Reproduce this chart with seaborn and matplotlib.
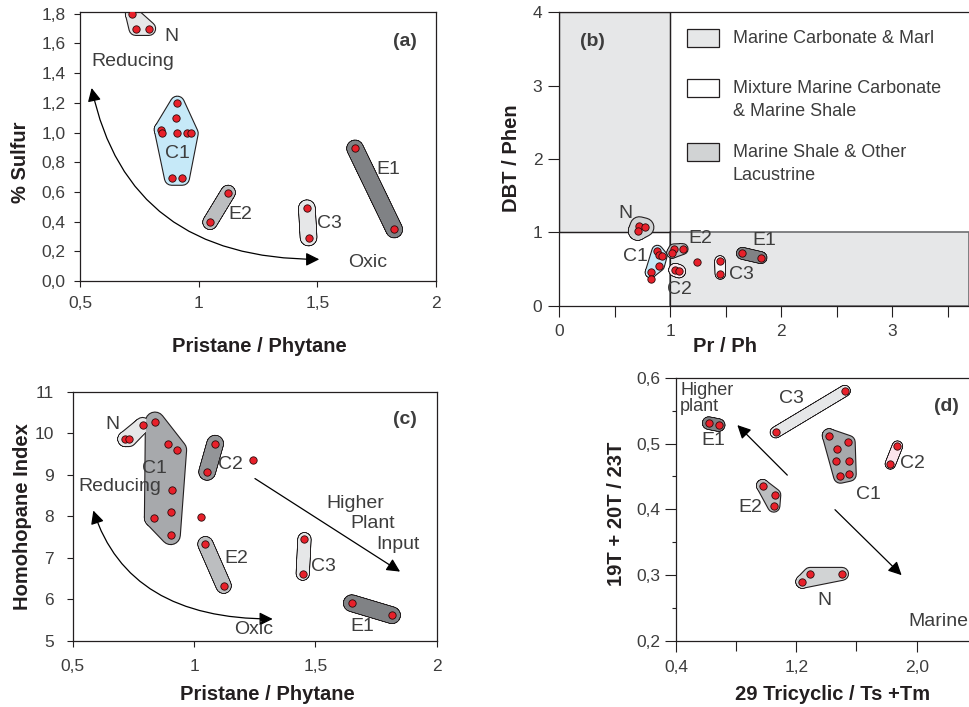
import numpy as np
import pandas as pd
import matplotlib
matplotlib.use('Agg')
import matplotlib.pyplot as plt
import seaborn as sns
from matplotlib.patches import Polygon, Rectangle
from matplotlib.ticker import FuncFormatter, MultipleLocator, FixedLocator

sns.set_style('ticks')
plt.rcParams['font.family'] = ['Liberation Sans', 'DejaVu Sans']

TXT = '#3d3d3d'
EDGE = '#231f20'
RED = '#e8202a'

# ---------------- (a) % Sulfur vs Pristane/Phytane ----------------
a_N_x = [0.72, 0.735, 0.79]
a_N_y = [1.80, 1.70, 1.70]
a_C1_x = [0.91, 0.903, 0.843, 0.847, 0.91, 0.95, 0.968, 0.886, 0.931]
a_C1_y = [1.197, 1.10, 1.02, 0.995, 0.995, 0.995, 0.995, 0.693, 0.693]
a_E2_x = [1.124, 1.048]
a_E2_y = [0.596, 0.396]
a_C3_x = [1.456, 1.463]
a_C3_y = [0.49, 0.293]
a_E1_x = [1.659, 1.824]
a_E1_y = [0.893, 0.347]

# ---------------- (b) DBT/Phen vs Pr/Ph ----------------
b_N_x = [0.723, 0.708, 0.771]
b_N_y = [1.087, 1.019, 1.069]
b_C1_x = [0.885, 0.897, 0.924, 0.90, 0.825]
b_C1_y = [0.75, 0.692, 0.678, 0.545, 0.455]
b_E2_x = [1.035, 1.113, 1.02]
b_E2_y = [0.769, 0.773, 0.723]
b_C2_x = [1.047, 1.08]
b_C2_y = [0.487, 0.469]
b_C3_x = [1.449, 1.452]
b_C3_y = [0.61, 0.432]
b_E1_x = [1.65, 1.818]
b_E1_y = [0.714, 0.655]
b_free_x = [0.831, 1.239]
b_free_y = [0.36, 0.592]

# ---------------- (c) Homohopane Index vs Pristane/Phytane ----------------
c_N_x = [0.717, 0.732, 0.788]
c_N_y = [9.86, 9.86, 10.2]
c_C1_x = [0.839, 0.894, 0.93, 0.909, 0.907, 0.835, 0.904]
c_C1_y = [10.28, 9.75, 9.6, 8.63, 8.11, 7.97, 7.55]
c_C2_x = [1.087, 1.054]
c_C2_y = [9.75, 9.07]
c_E2_x = [1.047, 1.122]
c_E2_y = [7.33, 6.33]
c_C3_x = [1.455, 1.448]
c_C3_y = [7.45, 6.62]
c_E1_x = [1.65, 1.816]
c_E1_y = [5.91, 5.62]
c_free_x = [1.245, 1.029]
c_free_y = [9.36, 7.98]

# ---------------- (d) 19T+20T/23T vs 29 Tricyclic/Ts+Tm ----------------
d_E1_x = [0.617, 0.684]
d_E1_y = [0.531, 0.528]
d_C3_x = [1.063, 1.522]
d_C3_y = [0.517, 0.580]
d_C1_x = [1.418, 1.546, 1.473, 1.464, 1.55, 1.493, 1.553]
d_C1_y = [0.512, 0.502, 0.491, 0.474, 0.474, 0.450, 0.453]
d_C2_x = [1.872, 1.825]
d_C2_y = [0.496, 0.469]
d_E2_x = [0.976, 1.056, 1.05]
d_E2_y = [0.436, 0.422, 0.405]
d_N_x = [1.24, 1.291, 1.504]
d_N_y = [0.290, 0.302, 0.302]


def hull(xs, ys):
    pts = sorted(set(zip(xs, ys)))
    if len(pts) <= 2:
        return pts
    def cross(o, a, b):
        return (a[0] - o[0]) * (b[1] - o[1]) - (a[1] - o[1]) * (b[0] - o[0])
    lower, upper = [], []
    for p in pts:
        while len(lower) >= 2 and cross(lower[-2], lower[-1], p) <= 0:
            lower.pop()
        lower.append(p)
    for p in reversed(pts):
        while len(upper) >= 2 and cross(upper[-2], upper[-1], p) <= 0:
            upper.pop()
        upper.append(p)
    return lower[:-1] + upper[:-1]


def blob(ax, xs, ys, fc, w):
    # rounded envelope around a group: thick round-joined outline of its hull
    h = hull(xs, ys)
    hx = [p[0] for p in h] + [h[0][0]]
    hy = [p[1] for p in h] + [h[0][1]]
    ax.plot(hx, hy, color=EDGE, lw=w + 1.6, solid_joinstyle='round',
            solid_capstyle='round', zorder=2)
    ax.plot(hx, hy, color=fc, lw=w, solid_joinstyle='round',
            solid_capstyle='round', zorder=2.1)
    if len(h) > 2:
        ax.add_patch(Polygon(h, closed=True, fc=fc, ec='none', zorder=2.2))


def dots(ax, groups):
    xs, ys = [], []
    for gx, gy in groups:
        xs += gx
        ys += gy
    df = pd.DataFrame({'x': xs, 'y': ys})
    sns.scatterplot(data=df, x='x', y='y', ax=ax, color=RED, edgecolor='#2a0a0a',
                    linewidth=0.6, s=28, zorder=5, legend=False)


def lab(ax, x, y, s, size=14, **kw):
    ax.text(x, y, s, fontsize=size, color=TXT, ha=kw.pop('ha', 'center'),
            va=kw.pop('va', 'center'), zorder=6, **kw)


def comma(fmt):
    return FuncFormatter(lambda v, p: (fmt % v).replace('.', ','))


def style(ax, length, xpad, ypad):
    for sp in ax.spines.values():
        sp.set_color(EDGE)
        sp.set_linewidth(0.9)
    ax.tick_params(which='both', direction='out', color=EDGE, width=0.8,
                   labelcolor=TXT, labelsize=12.5, length=length)
    ax.tick_params(axis='x', pad=xpad)
    ax.tick_params(axis='y', pad=ypad)


def axlabels(ax, xl, yl, xpos, ypos):
    ax.set_xlabel(xl, fontsize=14.5, fontweight='bold', color=EDGE)
    ax.set_ylabel(yl, fontsize=14.5, fontweight='bold', color=EDGE)
    ax.xaxis.set_label_coords(*xpos)
    ax.yaxis.set_label_coords(*ypos)


def arrow(ax, start, tip, style='-|>', conn='arc3'):
    ax.annotate('', xy=tip, xytext=start,
                arrowprops=dict(arrowstyle=style, color='black', lw=0.9,
                                mutation_scale=20, shrinkA=0, shrinkB=0,
                                connectionstyle=conn), zorder=4)


fig = plt.figure(figsize=(9.69, 7.07), dpi=100)
W, H = 969, 707

# ================= (a) =================
ax = fig.add_axes([80 / W, 1 - 281 / H, 356 / W, (281 - 12.3) / H])
blob(ax, a_N_x, a_N_y, '#e6e7e8', 9)
blob(ax, a_C1_x, a_C1_y, '#c6e9f8', 9.5)
blob(ax, a_E2_x, a_E2_y, '#bcbec0', 9.5)
blob(ax, a_C3_x, a_C3_y, '#e6e7e8', 11)
blob(ax, a_E1_x, a_E1_y, '#808285', 11)
dots(ax, [(a_N_x, a_N_y), (a_C1_x, a_C1_y), (a_E2_x, a_E2_y),
          (a_C3_x, a_C3_y), (a_E1_x, a_E1_y)])
ax.set_xlim(0.5, 2)
ax.set_ylim(0, 1.81)
ax.xaxis.set_major_locator(FixedLocator([0.5, 1, 1.5, 2]))
ax.xaxis.set_major_formatter(comma('%g'))
ax.yaxis.set_major_locator(MultipleLocator(0.2))
ax.yaxis.set_major_formatter(comma('%.1f'))
style(ax, 4, 7, 6.5)
axlabels(ax, 'Pristane / Phytane', '% Sulfur', (0.503, -0.207), (-0.140, 0.443))
arrow(ax, (1.508, 0.146), (0.549, 1.30), '<|-|>', 'angle3,angleA=0,angleB=-78')
lab(ax, 0.886, 1.65, 'N')
lab(ax, 0.549, 1.48, 'Reducing', ha='left')
lab(ax, 1.87, 1.615, '(a)', fontweight='bold')
lab(ax, 0.91, 0.86, 'C1')
lab(ax, 1.174, 0.445, 'E2')
lab(ax, 1.551, 0.385, 'C3')
lab(ax, 1.799, 0.749, 'E1')
lab(ax, 1.712, 0.126, 'Oxic')

# ================= (b) =================
ax = fig.add_axes([559 / W, 1 - 305.7 / H, 410 / W, (305.7 - 12.3) / H])
ax.add_patch(Rectangle((0, 1), 1, 3, fc='#e6e7e8', ec=EDGE, lw=0.9, zorder=1))
ax.add_patch(Rectangle((1, 0), 2.69, 1, fc='#e6e7e8', ec='#6d6e71', lw=1.2, zorder=1))
ax.axvline(1, color=EDGE, lw=0.9, zorder=1.2)
ax.axhline(1, xmax=1 / 3.69, color=EDGE, lw=0.9, zorder=1.2)
blob(ax, b_N_x, b_N_y, '#d1d3d4', 12.5)
blob(ax, b_C1_x, b_C1_y, '#c6e9f8', 7)
blob(ax, b_E2_x, b_E2_y, '#bcbec0', 7)
blob(ax, b_C2_x, b_C2_y, '#fbe8ee', 8.5)
blob(ax, b_C3_x, b_C3_y, '#f7f7f7', 6.5)
blob(ax, b_E1_x, b_E1_y, '#808285', 7.5)
dots(ax, [(b_N_x, b_N_y), (b_C1_x, b_C1_y), (b_E2_x, b_E2_y), (b_C2_x, b_C2_y),
          (b_C3_x, b_C3_y), (b_E1_x, b_E1_y), (b_free_x, b_free_y)])
ax.set_xlim(0, 3.69)
ax.set_ylim(0, 4)
ax.xaxis.set_major_locator(MultipleLocator(1))
ax.xaxis.set_minor_locator(MultipleLocator(0.5))
ax.yaxis.set_major_locator(MultipleLocator(1))
style(ax, 8, 5, 4)
ax.spines['right'].set_visible(False)
axlabels(ax, 'Pr / Ph', 'DBT / Phen', (0.406, -0.106), (-0.092, 0.503))
lab(ax, 0.303, 3.6, '(b)', fontweight='bold')
lab(ax, 0.595, 1.259, 'N')
lab(ax, 0.69, 0.668, 'C1')
lab(ax, 1.27, 0.918, 'E2')
lab(ax, 1.847, 0.886, 'E1')
lab(ax, 1.64, 0.432, 'C3')
lab(ax, 1.081, 0.223, 'C2')
# legend boxes (axes coordinates)
legend_rows = [
    ('#e6e7e8', 0.943, ['Marine Carbonate & Marl']),
    ('#ffffff', 0.773, ['Mixture Marine Carbonate', '& Marine Shale']),
    ('#d1d3d4', 0.555, ['Marine Shale & Other', 'Lacustrine']),
]
for fc, top, lines in legend_rows:
    ax.add_patch(Rectangle((0.312, top - 0.061), 0.078, 0.061, transform=ax.transAxes,
                           fc=fc, ec=EDGE, lw=0.9, zorder=3))
    for i, line in enumerate(lines):
        ax.text(0.424, top - 0.032 - i * 0.078, line, transform=ax.transAxes,
                fontsize=13, color=TXT, ha='left', va='center', zorder=6)

# ================= (c) =================
ax = fig.add_axes([72.7 / W, 1 - 641 / H, 364 / W, (641 - 391.7) / H])
blob(ax, c_N_x, c_N_y, '#e6e7e8', 10)
blob(ax, c_C1_x, c_C1_y, '#a7a9ac', 13)
blob(ax, c_C2_x, c_C2_y, '#939598', 11)
blob(ax, c_E2_x, c_E2_y, '#bcbec0', 10)
blob(ax, c_C3_x, c_C3_y, '#e6e7e8', 8.5)
blob(ax, c_E1_x, c_E1_y, '#808285', 11)
dots(ax, [(c_N_x, c_N_y), (c_C1_x, c_C1_y), (c_C2_x, c_C2_y), (c_E2_x, c_E2_y),
          (c_C3_x, c_C3_y), (c_E1_x, c_E1_y), (c_free_x, c_free_y)])
ax.set_xlim(0.5, 2)
ax.set_ylim(5, 11)
ax.xaxis.set_major_locator(FixedLocator([0.5, 1, 1.5, 2]))
ax.xaxis.set_major_formatter(comma('%g'))
ax.yaxis.set_major_locator(MultipleLocator(1))
style(ax, 4, 9, 9.5)
axlabels(ax, 'Pristane / Phytane', 'Homohopane Index', (0.534, -0.1765), (-0.111, 0.499))
arrow(ax, (1.324, 5.53), (0.585, 8.14), '<|-|>', 'angle3,angleA=0,angleB=-72')
arrow(ax, (1.251, 8.91), (1.849, 6.67))
lab(ax, 0.662, 10.21, 'N')
lab(ax, 0.837, 9.155, 'C1')
lab(ax, 1.152, 9.25, 'C2')
lab(ax, 0.695, 8.71, 'Reducing')
lab(ax, 1.87, 10.32, '(c)', fontweight='bold')
lab(ax, 1.663, 8.31, 'Higher')
lab(ax, 1.738, 7.82, 'Plant')
lab(ax, 1.842, 7.33, 'Input')
lab(ax, 1.176, 6.99, 'E2')
lab(ax, 1.533, 6.80, 'C3')
lab(ax, 1.694, 5.345, 'E1')
lab(ax, 1.245, 5.28, 'Oxic')

# ================= (d) =================
ax = fig.add_axes([676 / W, 1 - 641 / H, 293 / W, (641 - 377.7) / H])
blob(ax, d_E1_x, d_E1_y, '#808285', 8)
blob(ax, d_C3_x, d_C3_y, '#e6e7e8', 7)
blob(ax, d_C1_x, d_C1_y, '#a7a9ac', 9)
blob(ax, d_C2_x, d_C2_y, '#fce4ec', 6.5)
blob(ax, d_E2_x, d_E2_y, '#bcbec0', 8)
blob(ax, d_N_x, d_N_y, '#d1d3d4', 8.5)
dots(ax, [(d_E1_x, d_E1_y), (d_C3_x, d_C3_y), (d_C1_x, d_C1_y), (d_C2_x, d_C2_y),
          (d_E2_x, d_E2_y), (d_N_x, d_N_y)])
ax.set_xlim(0.4, 2.348)
ax.set_ylim(0.2, 0.6)
ax.xaxis.set_major_locator(FixedLocator([0.4, 1.2, 2.0]))
ax.xaxis.set_minor_locator(FixedLocator([0.8, 1.6]))
ax.xaxis.set_major_formatter(comma('%.1f'))
ax.yaxis.set_major_locator(MultipleLocator(0.1))
ax.yaxis.set_minor_locator(MultipleLocator(0.05))
ax.yaxis.set_major_formatter(comma('%.1f'))
style(ax, 8, 6, 3)
ax.tick_params(axis='y', which='minor', length=3)
ax.tick_params(axis='x', which='minor', length=7)
ax.spines['right'].set_visible(False)
axlabels(ax, '29 Tricyclic / Ts +Tm', '19T + 20T / 23T', (0.533, -0.167), (-0.172, 0.482))
arrow(ax, (1.14, 0.452), (0.808, 0.528))
arrow(ax, (1.457, 0.3995), (1.90, 0.30))
lab(ax, 0.427, 0.581, 'Higher', size=13, ha='left')
lab(ax, 0.427, 0.556, 'plant', size=13, ha='left')
lab(ax, 0.648, 0.504, 'E1')
lab(ax, 1.165, 0.568, 'C3')
lab(ax, 2.196, 0.557, '(d)', fontweight='bold')
lab(ax, 1.972, 0.47, 'C2')
lab(ax, 1.679, 0.423, 'C1')
lab(ax, 0.897, 0.4025, 'E2')
lab(ax, 1.384, 0.261, 'N')
lab(ax, 2.145, 0.229, 'Marine')

fig.savefig('out.png', dpi=100)
